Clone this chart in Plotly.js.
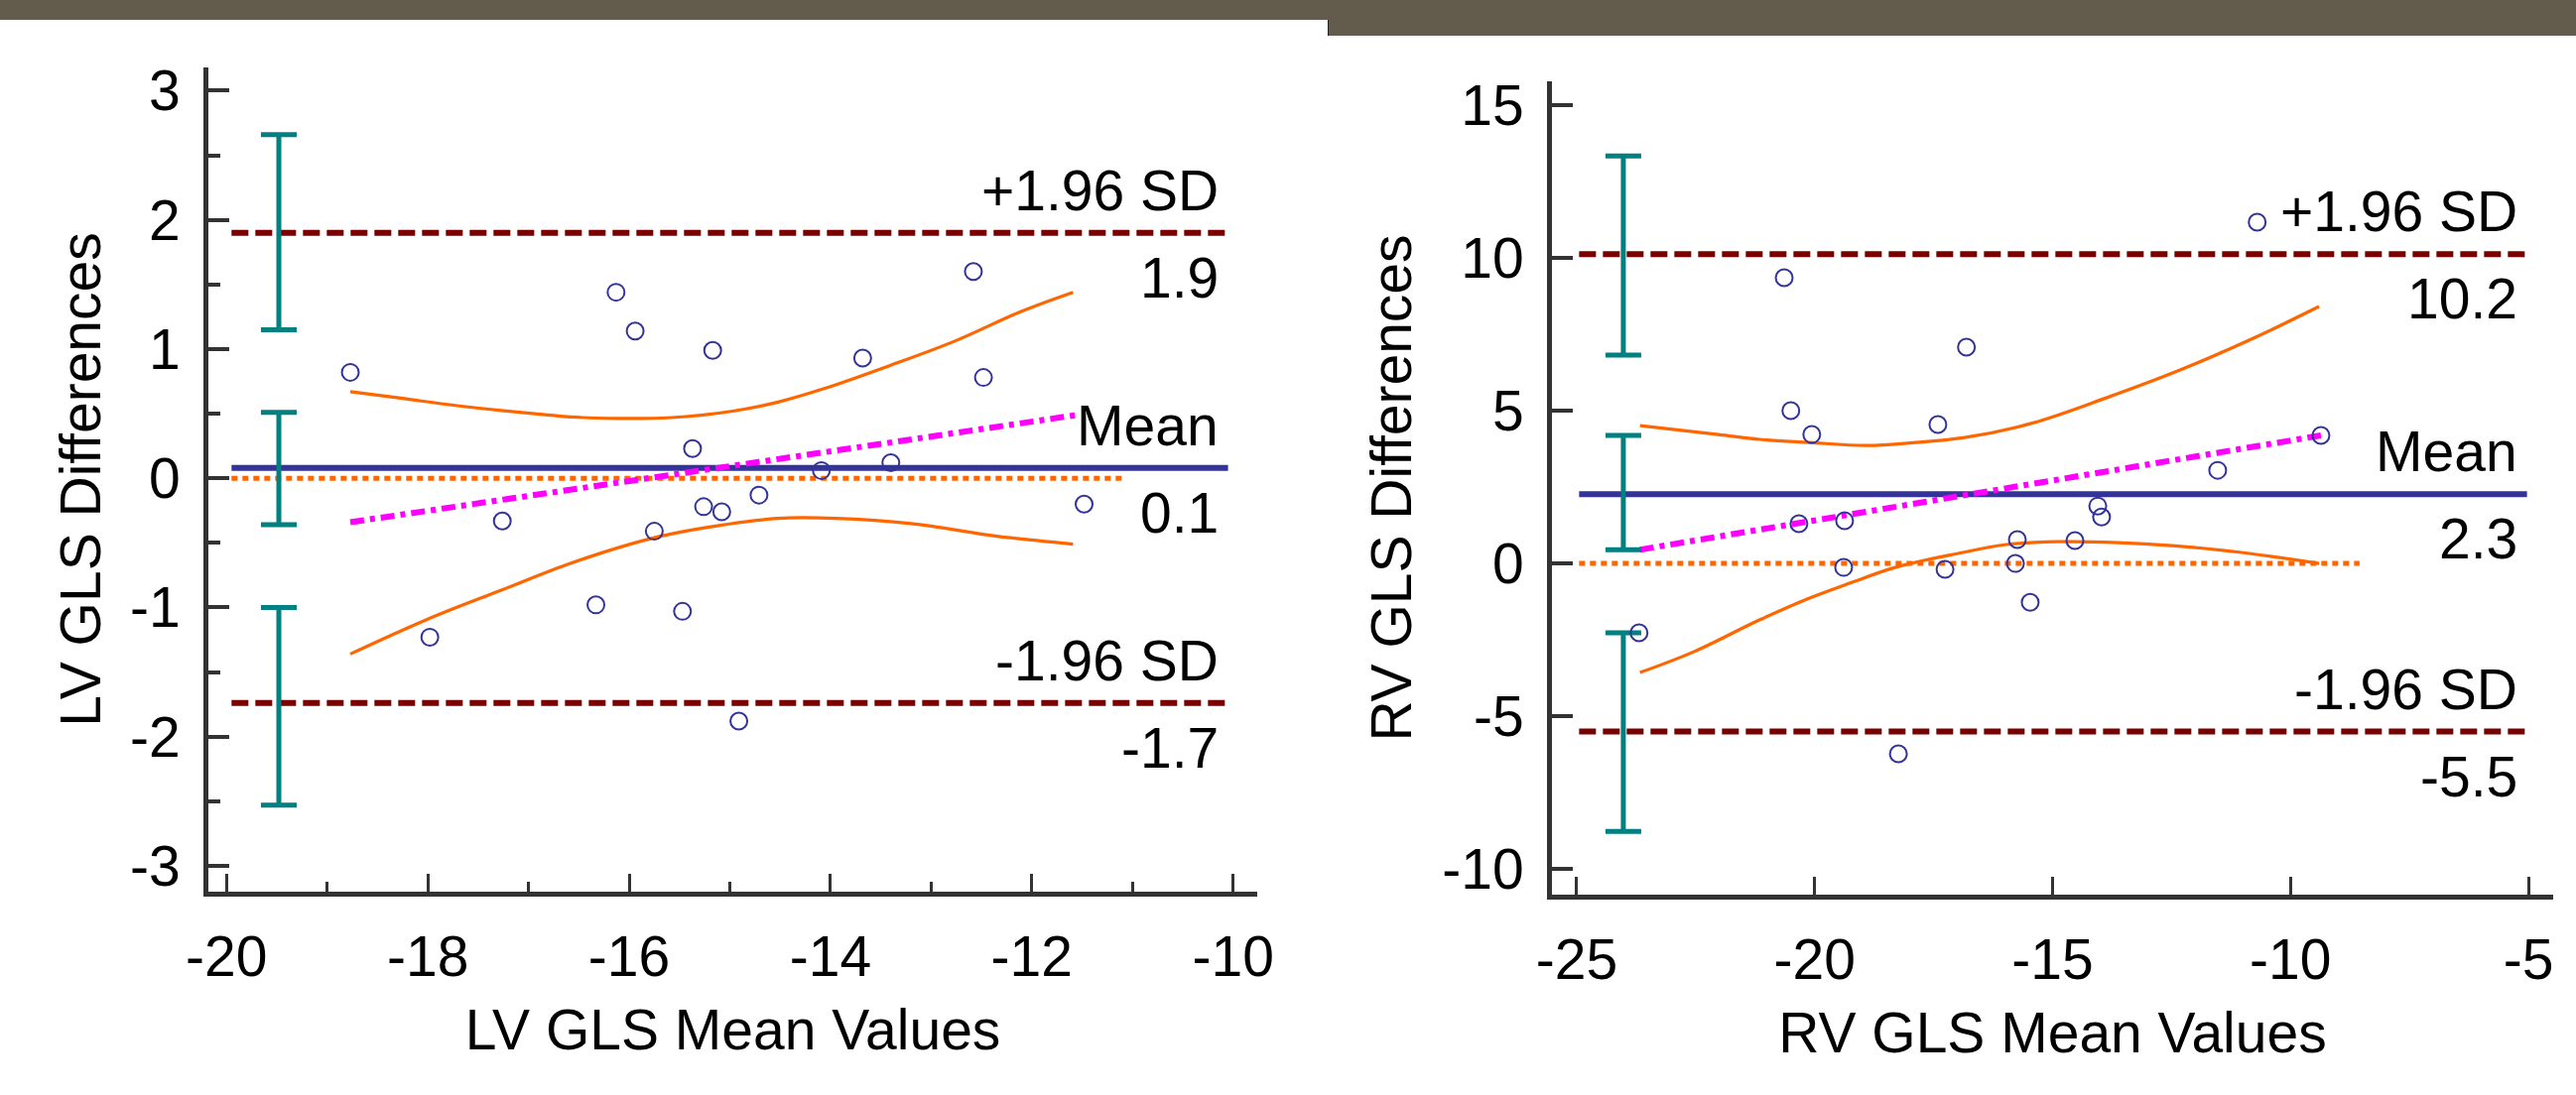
<!DOCTYPE html>
<html>
<head>
<meta charset="utf-8">
<script src="https://cdn.plot.ly/plotly-3.0.1.min.js"></script>
<style>
  html, body { margin: 0; padding: 0; background: #ffffff; }
  #chart { width: 2596px; height: 1104px; }
</style>
</head>
<body>
<div id="chart"></div>
<script>
// ---------------- DATA ----------------
// LV GLS Bland-Altman
const lvMeanValues = [-18.77, -16.13, -15.94, -15.17, -15.37, -14.09, -17.26, -15.75, -15.26, -15.08,
                      -14.71, -12.58, -13.68, -12.48, -13.40, -11.48, -17.98, -16.33, -15.47, -14.91];
const lvDifferences = [0.82, 1.44, 1.14, 0.99, 0.23, 0.06, -0.33, -0.41, -0.22, -0.26,
                       -0.13, 1.60, 0.93, 0.78, 0.12, -0.20, -1.23, -0.98, -1.03, -1.88];
const lvLimitValues = [1.9, 0.08, -1.74];          // +1.96 SD, mean, -1.96 SD
const lvLimitLabels = ["+1.96 SD", "Mean", "-1.96 SD"];
const lvLimitTexts = ["1.9", "0.1", "-1.7"];
const lvCiLow = [1.15, -0.36, -2.53];
const lvCiHigh = [2.66, 0.51, -1.0];
const lvRegX = [-18.77, -11.55];
const lvRegY = [-0.34, 0.49];
const lvUpperCurveX = [-18.77, -18.27, -17.69, -16.81, -16.46, -15.58, -14.97, -14.52, -14.08, -13.42, -12.77, -12.11, -11.59];
const lvUpperCurveY = [0.67, 0.62, 0.56, 0.49, 0.47, 0.47, 0.52, 0.59, 0.69, 0.87, 1.06, 1.29, 1.44];
const lvLowerCurveX = [-18.77, -18.0, -17.25, -16.59, -15.75, -15.14, -14.52, -13.95, -13.2, -12.33, -11.59];
const lvLowerCurveY = [-1.36, -1.09, -0.86, -0.66, -0.46, -0.37, -0.31, -0.31, -0.35, -0.45, -0.51];
const lvLineX = [-19.95, -10.05];
const lvZeroX = [-19.95, -11.1];
const lvCiX = -19.48;
const lvXTicks = [-20, -18, -16, -14, -12, -10];
const lvXTickLabels = ["-20", "-18", "-16", "-14", "-12", "-10"];
const lvYTicks = [-3, -2, -1, 0, 1, 2, 3];
const lvYTickLabels = ["-3", "-2", "-1", "0", "1", "2", "3"];

// RV GLS Bland-Altman
const rvMeanValues = [-20.64, -16.81, -20.5, -20.06, -17.41, -20.33, -19.37, -15.74, -19.39, -17.26,
                      -15.78, -10.7, -9.36, -11.53, -14.05, -13.97, -14.53, -23.69, -18.24, -15.47];
const rvDifferences = [9.35, 7.08, 5.0, 4.22, 4.55, 1.30, 1.40, 0.78, -0.13, -0.19,
                       0.0, 11.17, 4.19, 3.05, 1.88, 1.52, 0.75, -2.27, -6.23, -1.27];
const rvLimitValues = [10.12, 2.27, -5.5];
const rvLimitLabels = ["+1.96 SD", "Mean", "-1.96 SD"];
const rvLimitTexts = ["10.2", "2.3", "-5.5"];
const rvCiLow = [6.82, 0.45, -8.77];
const rvCiHigh = [13.34, 4.19, -2.27];
const rvRegX = [-23.67, -9.36];
const rvRegY = [0.45, 4.19];
const rvUpperCurveX = [-23.67, -22.02, -21.16, -20.12, -18.91, -17.87, -16.85, -15.41, -13.87, -12.32, -10.78, -9.4];
const rvUpperCurveY = [4.51, 4.22, 4.06, 3.96, 3.86, 3.96, 4.12, 4.6, 5.42, 6.33, 7.37, 8.41];
const rvLowerCurveX = [-23.67, -22.54, -21.16, -20.12, -19.27, -18.31, -17.01, -15.97, -14.89, -13.62, -12.49, -11.03, -9.4];
const rvLowerCurveY = [-3.57, -2.89, -1.85, -1.14, -0.65, -0.13, 0.32, 0.62, 0.71, 0.68, 0.58, 0.36, 0.0];
const rvLineX = [-24.95, -5.03];
const rvZeroX = [-24.95, -8.55];
const rvCiX = -24.02;
const rvXTicks = [-25, -20, -15, -10, -5];
const rvXTickLabels = ["-25", "-20", "-15", "-10", "-5"];
const rvYTicks = [-10, -5, 0, 5, 10, 15];
const rvYTickLabels = ["-10", "-5", "0", "5", "10", "15"];

// ---------------- STYLE ----------------
const W = 2596, H = 1104;
const FONT = "Liberation Sans, Arial, sans-serif";
const C = {
  navy: "#333399", maroon: "#7a0000", orange: "#ff6600", magenta: "#ff00ff",
  teal: "#008080", axis: "#333333", band: "#635c4c"
};
const px = (a, b) => [a / W, b / W];
const py = (top, bottom) => [1 - bottom / H, 1 - top / H];

function panelTraces(xa, ya, mx, dy, limits, ciLow, ciHigh, ciX, regX, regY, upX, upY, loX, loY, lineX, zeroX) {
  const t = [];
  // zero line (dotted orange)
  t.push({x: zeroX, y: [0, 0], xaxis: xa, yaxis: ya, mode: "lines", hoverinfo: "skip",
          line: {color: C.orange, width: 5, dash: "6px,5px"}});
  // +/-1.96 SD lines (dashed maroon)
  [0, 2].forEach(i => t.push({x: lineX, y: [limits[i], limits[i]], xaxis: xa, yaxis: ya, mode: "lines",
          hoverinfo: "skip", line: {color: C.maroon, width: 6, dash: "17px,7px"}}));
  // mean line
  t.push({x: lineX, y: [limits[1], limits[1]], xaxis: xa, yaxis: ya, mode: "lines", hoverinfo: "skip",
          line: {color: C.navy, width: 6}});
  // CI curves
  t.push({x: upX, y: upY, xaxis: xa, yaxis: ya, mode: "lines", line: {color: C.orange, width: 3.2, shape: "spline"}});
  t.push({x: loX, y: loY, xaxis: xa, yaxis: ya, mode: "lines", line: {color: C.orange, width: 3.2, shape: "spline"}});
  // regression line
  t.push({x: regX, y: regY, xaxis: xa, yaxis: ya, mode: "lines",
          line: {color: C.magenta, width: 6, dash: "14px,6px,5px,6px"}});
  // confidence intervals of limits (teal error bars)
  t.push({x: [ciX, ciX, ciX], y: limits, xaxis: xa, yaxis: ya, mode: "markers",
          marker: {size: 1, color: "rgba(0,0,0,0)"},
          error_y: {type: "data", symmetric: false,
                    array: limits.map((v, i) => ciHigh[i] - v),
                    arrayminus: limits.map((v, i) => v - ciLow[i]),
                    color: C.teal, thickness: 5, width: 18}});
  // scatter points
  t.push({x: mx, y: dy, xaxis: xa, yaxis: ya, mode: "markers",
          marker: {symbol: "circle-open", size: 17, color: C.navy, line: {width: 2, color: C.navy}}});
  return t;
}

const traces = [
  ...panelTraces("x", "y", lvMeanValues, lvDifferences, lvLimitValues, lvCiLow, lvCiHigh, lvCiX,
                 lvRegX, lvRegY, lvUpperCurveX, lvUpperCurveY, lvLowerCurveX, lvLowerCurveY, lvLineX, lvZeroX),
  ...panelTraces("x2", "y2", rvMeanValues, rvDifferences, rvLimitValues, rvCiLow, rvCiHigh, rvCiX,
                 rvRegX, rvRegY, rvUpperCurveX, rvUpperCurveY, rvLowerCurveX, rvLowerCurveY, rvLineX, rvZeroX)
];

function limitAnnotations(xa, ya, xEnd, values, labels, texts) {
  const out = [];
  values.forEach((v, i) => {
    out.push({xref: xa, yref: ya, x: xEnd, y: v, xanchor: "right", yanchor: "middle", showarrow: false,
              xshift: -8, yshift: 43, text: labels[i], font: {family: FONT, size: 57, color: "#000"}});
    out.push({xref: xa, yref: ya, x: xEnd, y: v, xanchor: "right", yanchor: "middle", showarrow: false,
              xshift: -8, yshift: -45, text: texts[i], font: {family: FONT, size: 57, color: "#000"}});
  });
  return out;
}

const tickFont = {family: FONT, size: 57, color: "#000"};
const titleFont = {family: FONT, size: 57, color: "#000"};

function axisBase() {
  return {showgrid: false, zeroline: false, showline: true, linecolor: C.axis, linewidth: 5,
          ticks: "inside", tickcolor: C.axis, tickfont: tickFont, fixedrange: true, tickmode: "array"};
}

const layout = {
  width: W, height: H,
  margin: {l: 0, r: 0, t: 0, b: 0},
  paper_bgcolor: "#ffffff", plot_bgcolor: "#ffffff",
  showlegend: false,
  xaxis: Object.assign(axisBase(), {domain: px(210, 1267), range: [-20.18, -9.76], anchor: "y",
    tickvals: lvXTicks, ticktext: lvXTickLabels, ticklen: 18, tickwidth: 3, ticklabelstandoff: 12,
    minor: {dtick: 1, tick0: -20, ticks: "inside", ticklen: 10, tickwidth: 3, tickcolor: C.axis},
    title: {text: "LV GLS Mean Values", font: titleFont, standoff: 24}}),
  yaxis: Object.assign(axisBase(), {domain: py(68, 899), range: [-3.2, 3.18], anchor: "x",
    tickvals: lvYTicks, ticktext: lvYTickLabels, ticklen: 21, tickwidth: 4, ticklabelstandoff: 12,
    minor: {dtick: 0.5, tick0: 0, ticks: "inside", ticklen: 12, tickwidth: 4, tickcolor: C.axis},
    title: {text: "LV GLS Differences", font: titleFont, standoff: 12}}),
  xaxis2: Object.assign(axisBase(), {domain: px(1564, 2573), range: [-25.52, -4.48], anchor: "y2",
    tickvals: rvXTicks, ticktext: rvXTickLabels, ticklen: 18, tickwidth: 3, ticklabelstandoff: 12,
    title: {text: "RV GLS Mean Values", font: titleFont, standoff: 24}}),
  yaxis2: Object.assign(axisBase(), {domain: py(82, 902), range: [-10.84, 15.78], anchor: "x2",
    tickvals: rvYTicks, ticktext: rvYTickLabels, ticklen: 21, tickwidth: 4, ticklabelstandoff: 12,
    title: {text: "RV GLS Differences", font: titleFont, standoff: 14}}),
  annotations: [
    ...limitAnnotations("x", "y", lvLineX[1], lvLimitValues, lvLimitLabels, lvLimitTexts),
    ...limitAnnotations("x2", "y2", rvLineX[1], rvLimitValues, rvLimitLabels, rvLimitTexts)
  ],
  shapes: [
    {type: "rect", xref: "paper", yref: "paper", x0: 0, x1: 1338 / W, y0: 1 - 20 / H, y1: 1,
     fillcolor: C.band, line: {width: 0}, layer: "above"},
    {type: "rect", xref: "paper", yref: "paper", x0: 1338 / W, x1: 1, y0: 1 - 36 / H, y1: 1,
     fillcolor: C.band, line: {width: 0}, layer: "above"},
    {type: "line", xref: "paper", yref: "paper", x0: 1338.5 / W, x1: 1338.5 / W, y0: 1 - 36 / H, y1: 1 - 20 / H,
     line: {color: "#222", width: 1}, layer: "above"}
  ]
};

Plotly.newPlot("chart", traces, layout, {staticPlot: true, displayModeBar: false});
</script>
</body>
</html>
